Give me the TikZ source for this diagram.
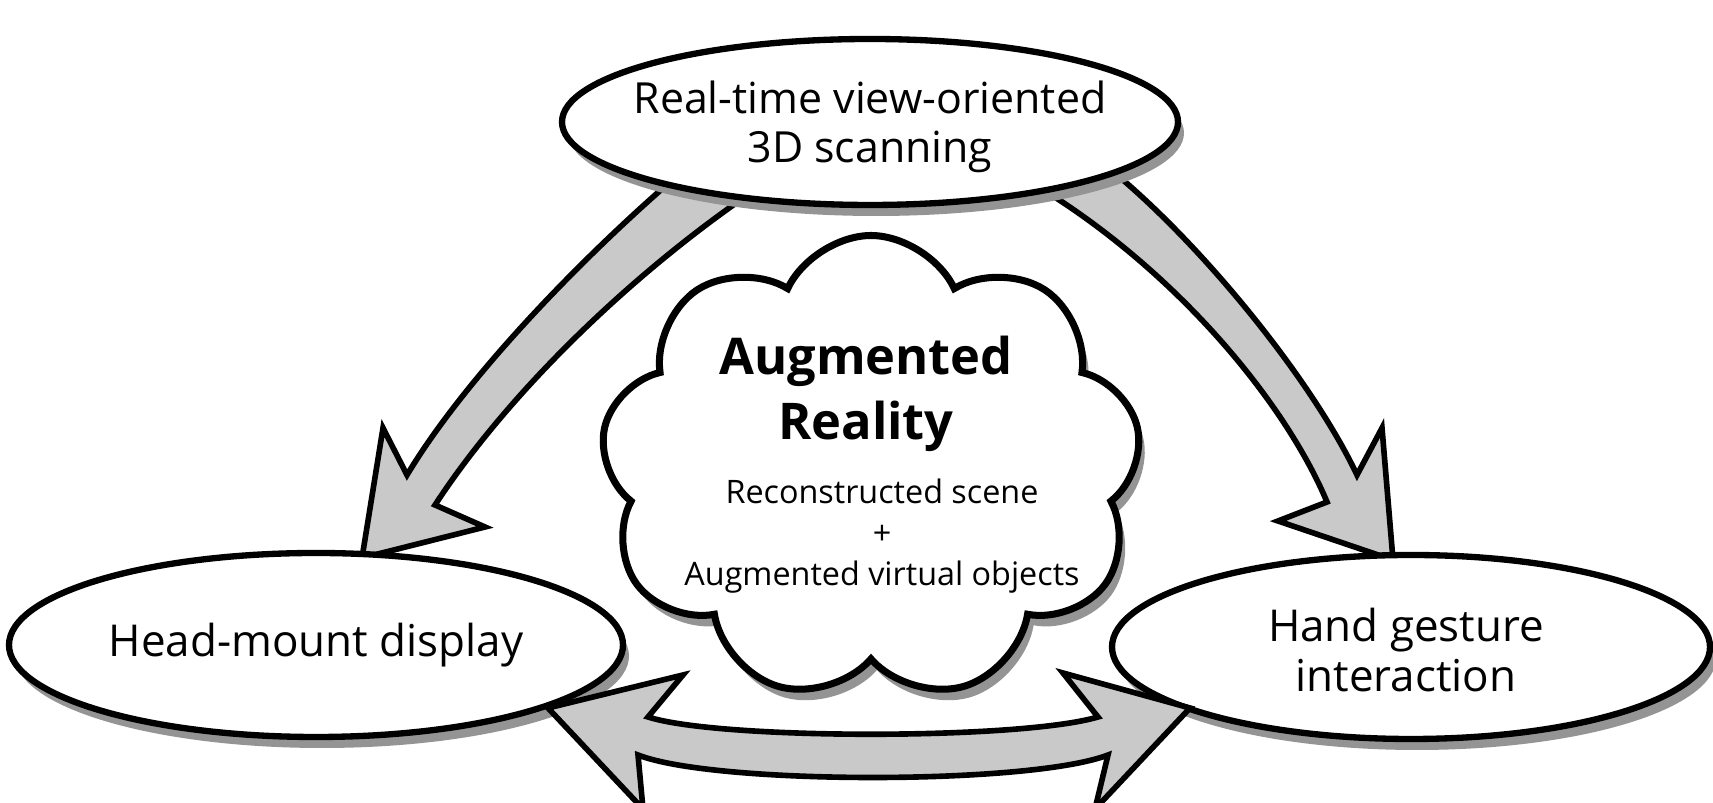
\documentclass[tikz,border=0pt]{standalone}
\usepackage{fontspec}
\setmainfont{Open Sans}
\usetikzlibrary{positioning, shapes.geometric, shapes.symbols, shadows}

\begin{document}
\begin{tikzpicture}[
    x=0.1mm, y=-0.1mm,
    stage/.style={ellipse, draw=black, line width=1.8pt, fill=white, inner sep=0pt,
        general shadow={fill=colShadow, shadow xshift=0.6mm, shadow yshift=-1.1mm}},
    cloudbox/.style={cloud, cloud puffs=9, cloud puff arc=130, cloud ignores aspect,
        draw=black, line width=2pt, fill=white, inner sep=0pt,
        general shadow={fill=colShadow, shadow xshift=0.6mm, shadow yshift=-1.1mm}},
    lbl/.style={align=center, inner sep=0pt, font=\fontsize{12.5}{14}\selectfont},
    blockarrow/.style={draw=black, line width=1.6pt, fill=colArrow, line join=miter}
]

\colorlet{colArrow}{black!21}
\colorlet{colShadow}{black!42}

\useasboundingbox (0,0) rectangle (1713,803);
\clip (0,0) rectangle (1713,803);

% curved arrows leaving the scanning stage (tails hide under the ellipse)
\filldraw[blockarrow]
    (690,165) .. controls (600,240) and (470,370) .. (407,475)
    -- (383,428) -- (362,558) -- (485,527) -- (435,505)
    .. controls (510,390) and (640,265) .. (770,180) -- cycle;
\filldraw[blockarrow]
    (1070,140) .. controls (1165,200) and (1305,365) .. (1357,475)
    -- (1382,428) -- (1393,560) -- (1278,521) -- (1327,502)
    .. controls (1280,390) and (1150,240) .. (990,160) -- cycle;

\node[stage, minimum width=61.6mm, minimum height=16.6mm] (scan) at (870,122) {};
\node[lbl, font=\fontsize{12.2}{13.8}\selectfont] (scanT) at (870,127)
    {Real-time view-oriented\\3D scanning};

\node[cloudbox, minimum width=54.1mm, minimum height=46.5mm] (ar) at (871,468) {};
\node[align=center, inner sep=0pt, font=\bfseries\fontsize{14.4}{18.4}\selectfont]
    (arTitle) at (866,394) {Augmented\\Reality};
\node[align=center, inner sep=0pt, font=\fontsize{9.2}{11.6}\selectfont]
    (arBody) at (882,536) {Reconstructed scene\\+\\Augmented virtual objects};

\node[stage, minimum width=61.4mm, minimum height=18.4mm] (hmd) at (316,645) {};
\node[lbl] (hmdT) at (316,645) {Head-mount display};

\node[stage, minimum width=59.8mm, minimum height=18.4mm] (hand) at (1411,647) {};
\node[lbl] (handT) at (1406,650) {Hand gesture\\interaction};

% two-way arrow between display and interaction
\filldraw[blockarrow]
    (548,708) -- (683,675) -- (648,717)
    .. controls (720,740) and (1020,740) .. (1098,717)
    -- (1063,673) -- (1190,708) -- (1095,809) -- (1108,755)
    .. controls (1030,785) and (715,785) .. (638,755)
    -- (643,809) -- cycle;

\end{tikzpicture}
\end{document}
